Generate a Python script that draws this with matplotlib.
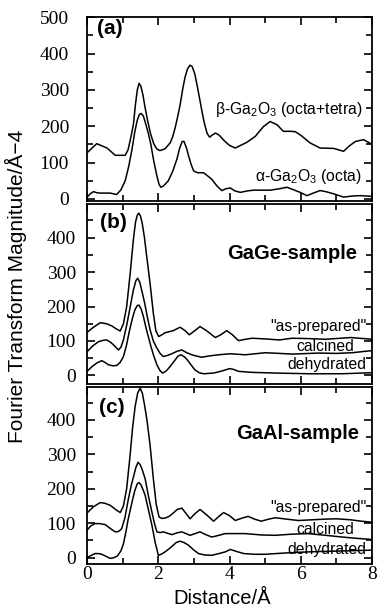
import numpy as np
import matplotlib.pyplot as plt
from matplotlib.ticker import MultipleLocator

plt.rcParams['font.family'] = ['Liberation Sans', 'DejaVu Sans']
plt.rcParams['mathtext.default'] = 'regular'

# (a) reference oxides
xa_beta = [0, 0.27, 0.56, 0.79, 1.07, 1.15, 1.23, 1.30, 1.36, 1.41, 1.46, 1.51, 1.57, 1.63, 1.70,
           1.78, 1.87, 1.96, 2.05, 2.19, 2.33, 2.40, 2.47, 2.54, 2.61, 2.68, 2.75, 2.82, 2.89,
           2.95, 3.02, 3.09, 3.16, 3.23, 3.30, 3.37, 3.44, 3.52, 3.60, 3.67, 3.74, 3.85, 4.0,
           4.16, 4.49, 4.72, 4.95, 5.14, 5.33, 5.51, 5.7, 5.84, 6.0, 6.26, 6.54, 6.92, 7.20,
           7.35, 7.53, 7.76, 8.0]
ya_beta = [127, 152, 140, 120, 120, 135, 170, 205, 262, 300, 318, 310, 285, 250, 215,
           180, 152, 137, 133, 138, 154, 170, 195, 225, 258, 300, 335, 358, 368,
           364, 345, 312, 275, 238, 205, 180, 170, 176, 181, 178, 172, 160, 147,
           140, 156, 172, 199, 213, 204, 186, 186, 185, 175, 154, 140, 139, 131,
           145, 158, 163, 150]
xa_alpha = [0, 0.1, 0.18, 0.27, 0.37, 0.65, 0.83, 0.95, 1.07, 1.17, 1.26, 1.34, 1.41, 1.47, 1.52,
            1.58, 1.65, 1.72, 1.79, 1.87, 1.96, 2.02, 2.07, 2.15, 2.28, 2.40, 2.52, 2.60, 2.67,
            2.72, 2.79, 2.85, 2.92, 2.99, 3.1, 3.27, 3.40, 3.50, 3.65, 3.78, 3.9, 4.02, 4.15,
            4.30, 4.5, 4.67, 5.14, 5.4, 5.61, 5.8, 5.98, 6.17, 6.35, 6.54, 6.7, 6.92, 7.20,
            7.45, 7.67, 8.0]
ya_alpha = [5, 15, 20, 17, 16, 16, 12, 25, 50, 90, 136, 185, 217, 233, 235,
            228, 205, 180, 150, 105, 63, 40, 32, 36, 50, 75, 109, 140, 158,
            158, 140, 118, 95, 77, 72, 72, 62, 54, 35, 23, 28, 30, 22,
            18, 22, 24, 24, 28, 32, 25, 18, 9, 16, 23, 20, 14, 5,
            8, 9, 7]

# (b) GaGe-sample
xb_prep = [0, 0.18, 0.37, 0.55, 0.69, 0.82, 0.93, 1.02, 1.11, 1.21, 1.30, 1.36, 1.41, 1.45, 1.50,
           1.55, 1.61, 1.68, 1.77, 1.86, 1.93, 2.01, 2.10, 2.19, 2.42, 2.61, 2.75, 2.87, 3.0,
           3.17, 3.35, 3.60, 3.75, 3.92, 4.08, 4.25, 4.45, 4.63, 5.0, 5.4, 5.75, 6.2, 6.69,
           7.4, 8.0]
yb_prep = [125, 140, 153, 150, 144, 135, 129, 150, 199, 296, 395, 445, 465, 471, 462,
           440, 400, 340, 265, 180, 130, 113, 118, 124, 130, 140, 130, 118, 128,
           142, 130, 110, 118, 130, 118, 101, 105, 108, 106, 103, 108, 107, 105,
           110, 105]
xb_calc = [0, 0.15, 0.32, 0.45, 0.55, 0.65, 0.74, 0.88, 0.95, 1.02, 1.12, 1.21, 1.30, 1.37, 1.42,
           1.48, 1.55, 1.62, 1.70, 1.77, 1.86, 1.96, 2.05, 2.14, 2.25, 2.38, 2.52, 2.66, 2.80,
           2.94, 3.08, 3.22, 3.45, 3.69, 4.02, 4.44, 5.0, 5.4, 5.75, 6.5, 7.0, 7.44, 7.8, 8.0]
yb_calc = [69, 85, 98, 102, 103, 97, 89, 74, 82, 103, 150, 199, 248, 275, 282,
           270, 240, 208, 165, 132, 100, 79, 64, 55, 58, 63, 70, 74, 66,
           60, 56, 53, 57, 60, 63, 60, 66, 64, 62, 65, 64, 66, 70, 72]
xb_dehy = [0, 0.14, 0.27, 0.41, 0.5, 0.60, 0.72, 0.83, 0.93, 1.02, 1.10, 1.18, 1.26, 1.34, 1.41,
           1.46, 1.52, 1.58, 1.65, 1.72, 1.79, 1.87, 1.96, 2.04, 2.12, 2.22, 2.33, 2.45, 2.55,
           2.63, 2.72, 2.80, 2.90, 3.03, 3.15, 3.27, 3.55, 3.75, 3.88, 4.0, 4.10, 4.25, 4.63,
           5.28, 6.22, 7.16, 8.0]
yb_dehy = [12, 26, 36, 43, 38, 31, 28, 29, 38, 55, 85, 125, 161, 190, 203,
           204, 192, 171, 140, 112, 85, 57, 31, 15, 7, 13, 26, 42, 56,
           60, 55, 47, 33, 16, 8, 5, 7, 12, 16, 20, 18, 12, 9,
           7, 5, 5, 8]

# (c) GaAl-sample
xc_prep = [0, 0.18, 0.37, 0.50, 0.65, 0.80, 0.93, 1.02, 1.11, 1.20, 1.28, 1.35, 1.42, 1.49, 1.55,
           1.61, 1.68, 1.77, 1.86, 1.94, 2.02, 2.10, 2.19, 2.30, 2.40, 2.53, 2.66, 2.78, 2.89,
           3.03, 3.17, 3.35, 3.55, 3.70, 3.83, 4.0, 4.16, 4.35, 4.52, 4.70, 4.89, 5.1, 5.28,
           5.6, 5.93, 6.3, 6.69, 7.0, 7.4, 7.7, 8.0]
yc_prep = [130, 148, 160, 158, 152, 140, 131, 150, 200, 290, 380, 440, 478, 492, 478,
           445, 400, 325, 229, 155, 118, 114, 115, 120, 128, 140, 144, 128, 113,
           128, 140, 125, 106, 120, 131, 122, 108, 115, 120, 112, 106, 112, 116,
           112, 108, 110, 112, 113, 110, 106, 103]
xc_calc = [0, 0.1, 0.22, 0.35, 0.51, 0.65, 0.79, 0.88, 0.97, 1.06, 1.16, 1.24, 1.30, 1.37, 1.43,
           1.49, 1.54, 1.63, 1.72, 1.82, 1.89, 1.96, 2.05, 2.14, 2.26, 2.38, 2.52, 2.66, 2.78,
           2.89, 3.03, 3.17, 3.33, 3.50, 3.70, 3.88, 4.44, 4.9, 5.28, 5.7, 6.2, 6.7, 7.16,
           7.6, 8.0]
yc_calc = [80, 92, 99, 99, 96, 85, 75, 76, 84, 115, 171, 210, 234, 262, 277,
           270, 258, 229, 180, 132, 100, 75, 73, 75, 71, 67, 72, 75, 70,
           65, 70, 75, 67, 60, 65, 70, 70, 66, 65, 68, 70, 65, 60,
           56, 53]
xc_dehy = [0, 0.1, 0.22, 0.32, 0.41, 0.55, 0.65, 0.75, 0.85, 0.95, 1.02, 1.09, 1.15, 1.26, 1.34,
           1.41, 1.46, 1.52, 1.58, 1.63, 1.72, 1.82, 1.91, 2.0, 2.08, 2.19, 2.35, 2.50, 2.61,
           2.72, 2.85, 3.0, 3.13, 3.3, 3.5, 3.7, 3.88, 4.02, 4.2, 4.4, 4.7, 5.0, 5.3,
           5.6, 6.0, 6.5, 7.3, 8.0]
yc_dehy = [0, 6, 12, 12, 10, 3, -2, 0, 5, 20, 40, 75, 110, 161, 195,
           215, 218, 210, 195, 181, 140, 94, 45, 7, 10, 17, 30, 44, 48,
           44, 36, 22, 12, 8, 7, 12, 17, 24, 18, 12, 10, 10, 12,
           14, 16, 18, 20, 22]

serif = 'Liberation Serif'

fig = plt.figure(figsize=(3.77, 6.14), dpi=100)
ax_a = fig.add_axes([0.231, 0.6725, 0.756, 0.2995])
ax_b = fig.add_axes([0.231, 0.375, 0.756, 0.292])
ax_c = fig.add_axes([0.231, 0.081, 0.756, 0.289])


def style(ax, ylim, yticks, pad, last=False):
	ax.set_xlim(0, 8)
	ax.set_ylim(*ylim)
	ax.xaxis.set_major_locator(MultipleLocator(2))
	ax.xaxis.set_minor_locator(MultipleLocator(1))
	ax.set_yticks(yticks)
	ax.yaxis.set_minor_locator(MultipleLocator(50))
	ax.tick_params(which='both', direction='in', top=True, right=True, width=1.2)
	ax.tick_params(which='major', length=6)
	ax.tick_params(which='minor', length=4.5)
	ax.tick_params(axis='y', pad=pad)
	ax.tick_params(axis='x', pad=1.5)
	for s in ax.spines.values():
		s.set_linewidth(1.3)
	for lab in ax.get_yticklabels() + ax.get_xticklabels():
		lab.set_fontfamily(serif)
		lab.set_fontsize(14)
	if not last:
		ax.tick_params(labelbottom=False)


style(ax_a, (-6, 500), [0, 100, 200, 300, 400, 500], 13)
style(ax_b, (-24, 496), [0, 100, 200, 300, 400], 8)
style(ax_c, (-19, 496), [0, 100, 200, 300, 400], 8, last=True)

lw = 1.1
small = 11.3
ax_a.plot(xa_beta, ya_beta, color='black', lw=lw)
ax_a.plot(xa_alpha, ya_alpha, color='black', lw=lw)
ax_a.text(0.28, 470, '(a)', fontweight='bold', fontsize=15, va='center')
ax_a.text(7.72, 245, 'β-Ga$_2$O$_3$ (octa+tetra)', fontsize=small, ha='right', va='center')
ax_a.text(7.72, 62, 'α-Ga$_2$O$_3$ (octa)', fontsize=small, ha='right', va='center')

for ax, data, lab, lab_xy, title, tx, ty, ly in [
		(ax_b, [(xb_prep, yb_prep), (xb_calc, yb_calc), (xb_dehy, yb_dehy)], '(b)', (0.37, 444),
		 'GaGe-sample', 7.58, 354, [141, 83, 31]),
		(ax_c, [(xc_prep, yc_prep), (xc_calc, yc_calc), (xc_dehy, yc_dehy)], '(c)', (0.34, 435),
		 'GaAl-sample', 7.64, 360, [146, 82, 25])]:
	for xs, ys in data:
		ax.plot(xs, ys, color='black', lw=lw)
	ax.text(lab_xy[0], lab_xy[1], lab, fontweight='bold', fontsize=15, va='center')
	ax.text(tx, ty, title, fontweight='bold', fontsize=14.5, ha='right', va='center')
	ax.text(7.85, ly[0], '"as-prepared"', fontsize=small, ha='right', va='center')
	ax.text(6.7, ly[1], 'calcined', fontsize=small, ha='center', va='center')
	ax.text(7.85, ly[2], 'dehydrated', fontsize=small, ha='right', va='center')

fig.text(0.589, 0.026, 'Distance/Å', fontsize=14.5, ha='center', va='center')
fig.text(0.042, 0.533, 'Fourier Transform Magnitude/Å\u22124', fontsize=15,
         rotation=90, ha='center', va='center')

fig.savefig('out.png', dpi=100)
